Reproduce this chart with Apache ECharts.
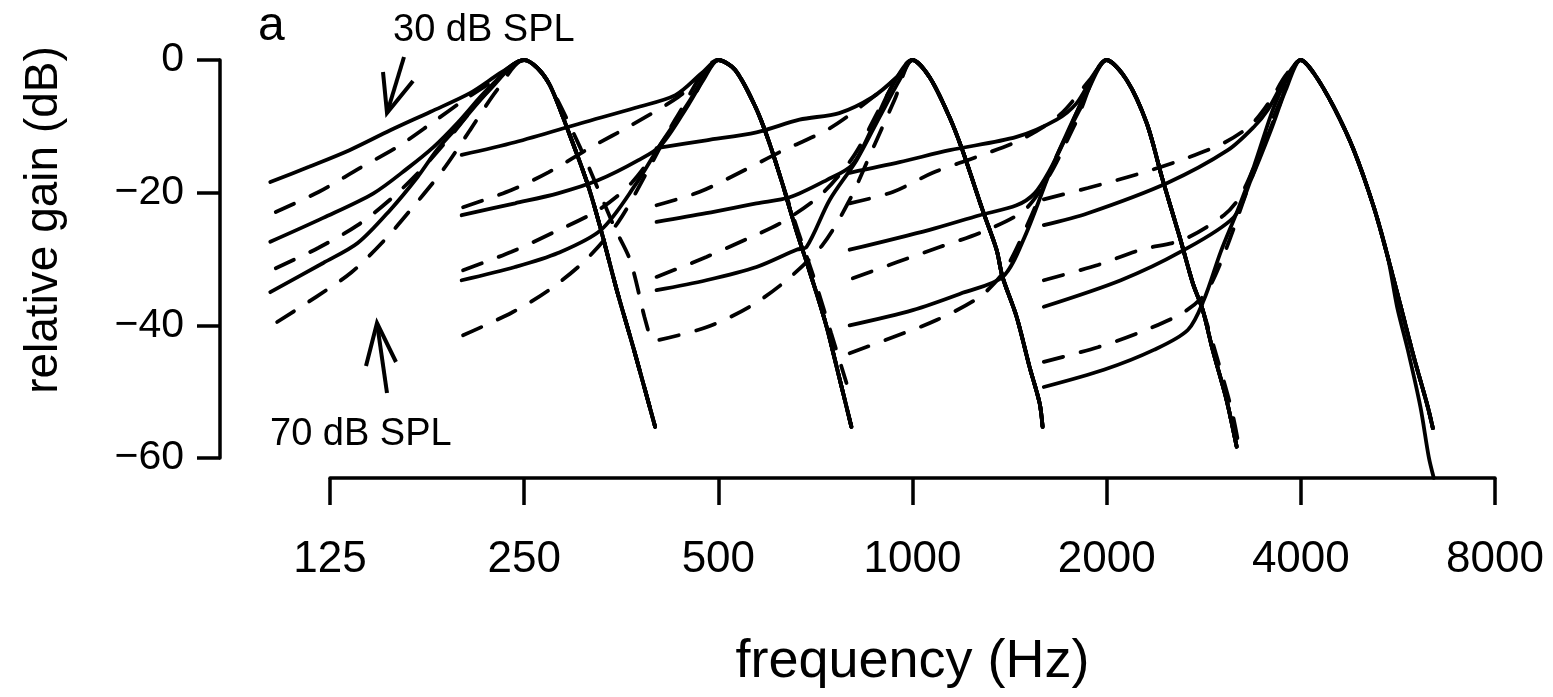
<!DOCTYPE html>
<html><head><meta charset="utf-8">
<script src="https://cdn.jsdelivr.net/npm/echarts@6/dist/echarts.min.js"></script>
<style>html,body{margin:0;padding:0;background:#fff}#c{width:1553px;height:697px}</style>
</head><body><div id="c"></div>
<script>
// ---------- data (frequency in Hz, relative gain in dB) ----------
const freqTicks = [125, 250, 500, 1000, 2000, 4000, 8000];
const gainTicks = [0, -20, -40, -60];
const centerFreqs = [250, 500, 1000, 2000, 4000];

// 250 Hz filters: low-frequency sides (top to bottom), high-frequency sides
const lo250_s1 = [[101,-18.4],[116,-16.1],[134,-13.6],[155,-10.6],[179,-7.8],[206,-5.0],[231,-1.8],[250,0]];
const lo250_d1 = [[103,-22.9],[120,-19.9],[139,-16.3],[159,-13.1],[181,-9.3],[202,-6.0],[221,-3.5],[250,0]];
const lo250_s2 = [[101,-27.4],[122,-23.8],[146,-20.1],[165,-16.3],[181,-13.1],[197,-9.5],[221,-4.1],[250,0]];
const lo250_d2 = [[103,-31.4],[120,-28.3],[138,-24.9],[156,-20.8],[174,-16.3],[193,-11.3],[219,-4.8],[250,0]];
const lo250_s3 = [[101,-35.0],[122,-30.6],[138,-27.6],[155,-22.6],[171,-17.6],[183,-13.6],[197,-10.1],[221,-4.5],[250,0]];
const lo250_d3 = [[103.5,-39.5],[119,-35.7],[135,-32.0],[152,-27.1],[169,-21.9],[187,-16.6],[206,-10.6],[227,-4.5],[250,0]];
const hi250    = [[250,0],[262,-1.2],[274,-3.8],[291,-10.1],[313,-18.5],[328,-25.2],[348,-34.7],[370,-43.7],[399,-55.3]];
const hi250_d3 = [[250,0],[262,-1.2],[274,-3.8],[305,-13.1],[345,-25.2],[365,-30.2],[384,-38.7],[395,-43.0]];

// 500 Hz
const lo500_s1 = [[200,-14.3],[242,-12.4],[307,-9.5],[372,-7.2],[429,-5.3],[471,-2.0],[500,0]];
const lo500_d1 = [[201,-22.2],[239,-19.6],[273,-16.9],[318,-13.1],[367,-9.8],[433,-5.6],[474,-2.3],[500,0]];
const lo500_s2 = [[200,-23.4],[242,-21.6],[282,-20.1],[326,-18.1],[376,-15.1],[408,-12.8],[449,-6.8],[474,-3.0],[500,0]];
const lo500_d2 = [[201,-31.7],[239,-28.9],[279,-25.9],[326,-22.6],[367,-18.5],[411,-12.1],[457,-5.6],[500,0]];
const lo500_s3 = [[200,-33.2],[242,-31.2],[282,-29.1],[329,-25.6],[372,-18.8],[408,-12.5],[449,-6.5],[474,-2.7],[500,0]];
const lo500_d3 = [[201,-41.5],[239,-38.1],[273,-34.7],[311,-30.2],[350,-24.4],[389,-16.6],[433,-8.3],[500,0]];
const hi500    = [[500,0],[531,-1.5],[571,-7.1],[598,-12.1],[626,-18.1],[658,-25.2],[689,-31.2],[733,-39.6],[767,-47.2],[804,-55.3]];
const hi500_d3 = [[500,0],[531,-1.5],[571,-7.1],[598,-12.1],[626,-18.1],[665,-25.9],[707,-33.5],[748,-41.2],[790,-48.7]];

// 1000 Hz
const lo1000_s1 = [[401,-13.3],[479,-12.1],[573,-10.9],[668,-9.0],[770,-8.0],[867,-5.6],[945,-2.6],[1000,0]];
const lo1000_d1 = [[401,-21.9],[467,-19.9],[539,-17.0],[622,-13.9],[744,-10.3],[858,-6.0],[955,-2.3],[1000,0]];
const lo1000_s2 = [[401,-24.4],[479,-23.1],[573,-21.6],[645,-20.7],[736,-18.1],[807,-15.8],[867,-10.1],[931,-3.8],[1000,0]];
const lo1000_d2 = [[401,-32.7],[479,-29.7],[559,-26.8],[629,-24.4],[725,-20.1],[813,-14.3],[905,-6.0],[1000,0]];
const lo1000_s3 = [[401,-34.7],[479,-33.2],[573,-31.2],[661,-28.6],[685,-28.2],[744,-21.1],[819,-15.1],[889,-8.6],[955,-3.0],[1000,0]];
const lo1000_d3 = [[405,-42.2],[479,-40.3],[559,-37.2],[638,-33.2],[725,-27.9],[799,-21.1],[873,-12.8],[938,-6.0],[1000,0]];
const hi1000    = [[1000,0],[1063,-2.6],[1141,-8.6],[1195,-13.6],[1284,-22.6],[1350,-28.6],[1379,-32.7],[1450,-38.7],[1519,-46.3],[1574,-51.7],[1591,-55.3]];

// 2000 Hz
const lo2000_s1 = [[799,-17.0],[955,-15.4],[1142,-13.6],[1450,-11.6],[1673,-9.0],[1797,-6.5],[1902,-2.6],[2000,0]];
const lo2000_d1 = [[799,-21.6],[932,-19.9],[1075,-17.0],[1258,-14.6],[1466,-12.1],[1691,-8.3],[1882,-3.0],[2000,0]];
const lo2000_s2 = [[799,-28.6],[1063,-25.6],[1271,-23.4],[1450,-21.9],[1546,-20.1],[1632,-16.6],[1721,-12.1],[1849,-5.3],[2000,0]];
const lo2000_d2 = [[808,-32.9],[945,-30.5],[1102,-28.2],[1285,-25.9],[1492,-22.6],[1632,-17.3],[1784,-9.8],[2000,0]];
const lo2000_s3 = [[799,-40.0],[1001,-37.7],[1196,-35.1],[1380,-32.7],[1492,-26.7],[1632,-17.0],[1753,-10.1],[1862,-5.0],[2000,0]];
const lo2000_d3 = [[799,-44.2],[932,-41.8],[1090,-39.2],[1271,-35.7],[1390,-31.7],[1519,-24.1],[1661,-15.1],[1816,-7.5],[2000,0]];
const hi2000    = [[2000,0],[2148,-3.0],[2307,-9.5],[2443,-18.1],[2596,-26.7],[2719,-33.6],[2818,-37.7],[2920,-43.7],[3069,-51.3],[3181,-58.3]];
const hi2000_d3 = [[2000,0],[2148,-3.0],[2307,-9.5],[2443,-18.1],[2596,-26.7],[2719,-33.6],[2818,-37.7],[2972,-45.2],[3125,-52.8],[3215,-58.8]];

// 4000 Hz
const lo4000_d1 = [[1598,-21.0],[1870,-19.3],[2236,-17.2],[2606,-15.1],[3039,-12.5],[3346,-9.8],[3594,-6.0],[3791,-2.3],[4000,0]];
const lo4000_s1 = [[1598,-24.9],[1870,-23.1],[2488,-18.5],[3082,-13.6],[3382,-10.1],[3556,-7.5],[3791,-2.7],[4000,0]];
const lo4000_d2 = [[1598,-33.2],[1938,-30.9],[2260,-28.6],[2625,-27.1],[3039,-23.4],[3229,-20.4],[3468,-13.6],[3724,-6.0],[4000,0]];
const lo4000_s2 = [[1598,-37.2],[2104,-33.2],[2606,-28.9],[3149,-23.7],[3346,-18.1],[3594,-10.6],[3791,-4.5],[4000,0]];
const lo4000_d3 = [[1598,-45.5],[1938,-43.3],[2260,-41.0],[2625,-38.1],[2850,-35.1],[3060,-28.6],[3346,-18.1],[3659,-8.3],[4000,0]];
const lo4000_s3 = [[1598,-49.3],[1980,-46.7],[2367,-43.7],[2672,-40.7],[2829,-36.2],[3006,-28.9],[3194,-22.6],[3382,-16.1],[3632,-7.1],[3818,-2.6],[4000,0]];
const hi4000_a  = [[4000,0],[4190,-2.0],[4500,-7.1],[4833,-13.6],[5191,-22.2],[5456,-29.7],[5716,-37.2],[5988,-44.8],[6294,-52.3],[6408,-55.5]];
const hi4000_b  = [[4000,0],[4190,-2.0],[4500,-7.1],[4833,-13.6],[5191,-22.2],[5456,-29.7],[5640,-37.2],[5860,-43.7],[6130,-52.3],[6317,-59.9],[6430,-63.0]];

// curve table: [low side, high side, dashed?]
const curves = [
  [lo250_s1, hi250, false], [lo250_d1, hi250, true], [lo250_s2, hi250, false],
  [lo250_d2, hi250, true], [lo250_s3, hi250, false], [lo250_d3, hi250_d3, true],
  [lo500_s1, hi500, false], [lo500_d1, hi500, true], [lo500_s2, hi500, false],
  [lo500_d2, hi500, true], [lo500_s3, hi500, false], [lo500_d3, hi500_d3, true],
  [lo1000_s1, hi1000, false], [lo1000_d1, hi1000, true], [lo1000_s2, hi1000, false],
  [lo1000_d2, hi1000, true], [lo1000_s3, hi1000, false], [lo1000_d3, hi1000, true],
  [lo2000_s1, hi2000, false], [lo2000_d1, hi2000, true], [lo2000_s2, hi2000, false],
  [lo2000_d2, hi2000, true], [lo2000_s3, hi2000, false], [lo2000_d3, hi2000_d3, true],
  [lo4000_d1, hi4000_a, true], [lo4000_s1, hi4000_a, false], [lo4000_d2, hi4000_a, true],
  [lo4000_s2, hi4000_a, false], [lo4000_d3, hi4000_a, true], [lo4000_s3, hi4000_b, false]
];

// ---------- chart ----------
const FONT = "'Liberation Sans', Arial, sans-serif";
const oct = f => Math.log2(f / freqTicks[0]);   // octaves above 125 Hz (log frequency axis)

const series = curves.map(([lo, hi, dashed]) => ({
  type: 'line',
  xAxisIndex: 0, yAxisIndex: 0,
  data: lo.concat(hi.slice(1)).map(([f, g]) => [oct(f), g]),
  symbol: 'none', showSymbol: false,
  smooth: 0.3,
  clip: false,
  silent: true,
  z: dashed ? 2 : 3,
  lineStyle: { color: '#000', width: 3.8, type: dashed ? [20, 18] : 'solid', cap: 'round' }
}));

const chart = echarts.init(document.getElementById('c'), null, { renderer: 'canvas' });
chart.setOption({
  animation: false,
  backgroundColor: '#fff',
  grid: [
    { left: 220, right: 58, top: 60, height: 398 },
    { left: 330, right: 58, top: 440, height: 38 }
  ],
  xAxis: [
    { gridIndex: 0, type: 'value', min: -110 / 194.17, max: 6, show: false },
    {
      gridIndex: 1, type: 'value', min: 0, max: 6, interval: 1,
      axisLine: { show: true, onZero: false, lineStyle: { color: '#000', width: 3.5 } },
      axisTick: { show: true, inside: false, length: 27, lineStyle: { color: '#000', width: 3.5 } },
      splitLine: { show: false },
      axisLabel: {
        show: true, margin: 60, color: '#000', fontSize: 44, fontFamily: FONT,
        formatter: v => String(freqTicks[Math.round(v)])
      },
      name: 'frequency (Hz)', nameLocation: 'middle', nameGap: 157,
      nameTextStyle: { color: '#000', fontSize: 54, fontFamily: FONT }
    }
  ],
  yAxis: [
    {
      gridIndex: 0, type: 'value', min: -60, max: 0, interval: 20,
      axisLine: { show: true, onZero: false, lineStyle: { color: '#000', width: 3.5 } },
      axisTick: { show: true, inside: false, length: 23, lineStyle: { color: '#000', width: 3.5 } },
      splitLine: { show: false },
      axisLabel: {
        show: true, margin: 36, color: '#000', fontSize: 41, fontFamily: FONT,
        formatter: v => gainTicks.includes(v) ? String(v).replace('-', '\u2212') : ''
      }
    },
    { gridIndex: 1, type: 'value', min: 0, max: 1, show: false }
  ],
  graphic: [
    { type: 'text', x: 44, y: 220, rotation: Math.PI / 2,
      style: { text: 'relative gain (dB)', fill: '#000', font: '46px ' + FONT, textAlign: 'center', textVerticalAlign: 'middle', align: 'center', verticalAlign: 'middle' } },
    { type: 'text', x: 258, y: 27,
      style: { text: 'a', fill: '#000', font: '48px ' + FONT, textAlign: 'left', textVerticalAlign: 'middle', align: 'left', verticalAlign: 'middle' } },
    { type: 'text', x: 393, y: 31,
      style: { text: '30 dB SPL', fill: '#000', font: '38px ' + FONT, textAlign: 'left', textVerticalAlign: 'middle', align: 'left', verticalAlign: 'middle' } },
    { type: 'text', x: 270, y: 435,
      style: { text: '70 dB SPL', fill: '#000', font: '38px ' + FONT, textAlign: 'left', textVerticalAlign: 'middle', align: 'left', verticalAlign: 'middle' } },
    { type: 'polyline', shape: { points: [[404, 57], [387, 113]] }, style: { stroke: '#000', lineWidth: 4, fill: null } },
    { type: 'polyline', shape: { points: [[383, 72], [387, 113], [413, 81]] }, style: { stroke: '#000', lineWidth: 4, fill: null } },
    { type: 'polyline', shape: { points: [[387, 393], [377, 323]] }, style: { stroke: '#000', lineWidth: 4, fill: null } },
    { type: 'polyline', shape: { points: [[366, 366], [377, 323], [396, 362]] }, style: { stroke: '#000', lineWidth: 4, fill: null } }
  ],
  series: series
});
</script>
</body></html>
